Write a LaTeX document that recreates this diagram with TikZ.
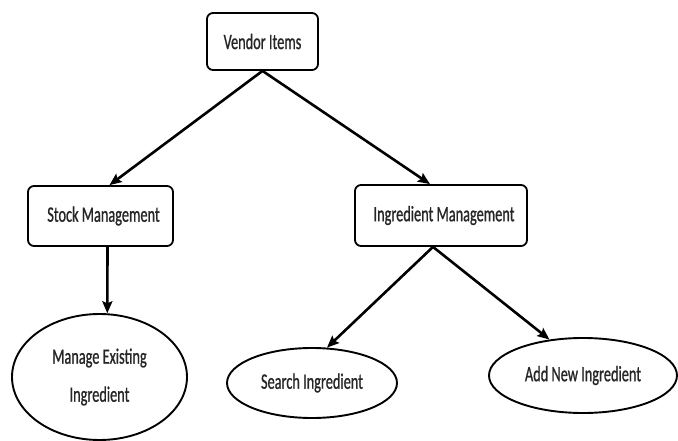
\documentclass[tikz,border=0pt]{standalone}
\usepackage{fontspec}
\setmainfont[FakeStretch=0.65,FakeBold=0.9]{Carlito}
\usetikzlibrary{shapes.geometric,arrows.meta}
\tikzset{
  box/.style={draw, line width=1.8pt, rounded corners=6pt, inner sep=0pt, font=\fontsize{22}{26}\selectfont, text=black!85},
  oval/.style={draw, ellipse, line width=1.9pt, inner sep=0pt, font=\fontsize{22}{38}\selectfont, text=black!85, align=center},
  link/.style={line width=2.6pt, -{Stealth[length=12pt,width=10pt,inset=2pt]}}
}
\begin{document}
\begin{tikzpicture}[x=1pt,y=-1pt]
\useasboundingbox (0,0) rectangle (678,441);
\node[box, minimum width=111pt, minimum height=57pt] (vendor) at (262.5,41.5) {Vendor Items};
\node[box, minimum width=145pt, minimum height=60pt] (stock) at (100.5,216) {\hspace{6pt}Stock Management};
\node[box, minimum width=172pt, minimum height=61pt] (ing) at (441,215.5) {\hspace{6pt}Ingredient Management};
\node[oval, minimum width=175pt, minimum height=126pt] (manage) at (99.5,377) {Manage Existing\\Ingredient};
\node[oval, minimum width=170pt, minimum height=70pt] (search) at (312,383) {Search Ingredient};
\node[oval, minimum width=188pt, minimum height=75pt] (add) at (583,375.5) {Add New Ingredient};
\draw[link] (vendor.south) -- ([xshift=9pt]stock.north);
\draw[link] (vendor.south) -- ([xshift=-11pt]ing.north);
\draw[link] ([xshift=7pt]stock.south) -- (manage.83);
\draw[link] ([xshift=-8pt]ing.south) -- (search.67);
\draw[link] ([xshift=-8pt]ing.south) -- (add.133);
\end{tikzpicture}
\end{document}
